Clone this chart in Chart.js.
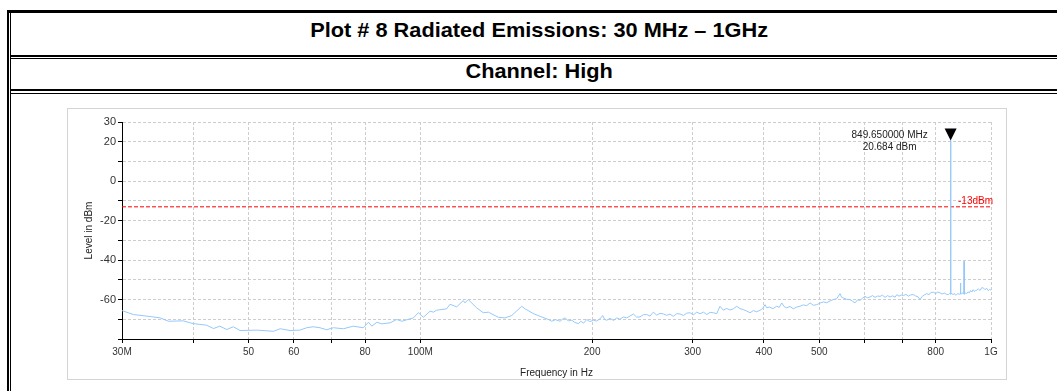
<!DOCTYPE html>
<html>
<head>
<meta charset="utf-8">
<script src="https://cdn.jsdelivr.net/npm/chart.js@4.4.1/dist/chart.umd.min.js"></script>
<style>
  html, body { margin:0; padding:0; background:#fff; width:1057px; height:391px; overflow:hidden; }
  .ln { position:absolute; background:#000; }
  .ttl { position:absolute; left:0; width:1078px; text-align:center; font-family:"Liberation Sans",Arial,sans-serif; font-weight:bold; font-size:21px; line-height:24px; color:#000; white-space:nowrap; }
  .ttl span { display:inline-block; transform:scaleX(1.035); transform-origin:50% 50%; }
  #box { position:absolute; left:67px; top:108px; width:940px; height:272px; box-sizing:border-box; border:1px solid #d4d4d4; }
  #wrap { position:absolute; left:68px; top:109px; width:937px; height:276px; }
</style>
</head>
<body>
<div class="ln" style="left:7px;top:10px;width:1100px;height:3px"></div>
<div class="ln" style="left:7px;top:10px;width:2px;height:400px"></div>
<div class="ln" style="left:10px;top:13px;width:1px;height:400px"></div>
<div class="ln" style="left:10px;top:55px;width:1100px;height:2px"></div>
<div class="ln" style="left:10px;top:58px;width:1100px;height:1px"></div>
<div class="ln" style="left:10px;top:89px;width:1100px;height:2px"></div>
<div class="ln" style="left:10px;top:93px;width:1100px;height:1px"></div>
<div class="ttl" style="top:18px"><span>Plot # 8 Radiated Emissions: 30 MHz – 1GHz</span></div>
<div class="ttl" style="top:59px"><span>Channel: High</span></div>
<div id="box"></div>
<div id="wrap"><canvas id="c"></canvas></div>
<script>
// ---- data (frequency in MHz, level in dBm) ----
const freqMHz = [
  30.0,31.4,33.6,35.0,36.2,38.4,40.0,42.2,43.4,44.5,45.8,47.0,48.3,51.7,55.3,56.8,59.1,61.5,63.2,64.9,
  66.7,68.5,70.4,73.3,76.3,79.4,81.1,82.2,83.9,85.6,88.5,90.9,92.8,97.2,99.2,101.2,104.0,105.4,106.8,111.2,
  112.7,115.8,118.9,119.7,121.3,125.5,128.9,131.6,137.0,140.7,144.6,150.5,152.6,157.7,162.1,167.6,
  169.9,172.5,175.7,177.4,179.3,181.6,184.2,186.5,189.2,191.0,193.2,195.7,198.1,201.0,203.5,206.4,208.7,210.3,212.1,215.0,
  218.0,220.9,223.8,226.8,229.9,232.9,236.2,239.3,242.6,245.9,249.3,252.5,256.0,259.5,263.0,266.6,270.2,273.8,277.5,281.3,
  285.1,289.0,292.9,296.9,300.9,305.0,309.2,313.4,317.6,321.9,326.2,330.6,335.0,339.6,344.2,348.8,353.5,358.4,363.2,368.1,
  373.1,378.2,383.3,388.5,393.8,397.8,401.8,404.6,409.0,415.0,421.2,425.5,429.8,434.1,438.5,444.4,450.4,456.5,462.7,469.0,
  475.4,481.8,488.3,495.0,501.7,508.4,515.3,522.3,529.3,536.5,543.8,547.4,551.0,558.5,566.1,571.8,577.6,583.5,589.5,595.4,
  601.4,607.5,613.7,620.0,626.3,632.6,639.0,645.5,652.1,658.8,665.5,672.3,679.1,683.7,690.0,696.0,702.1,709.3,716.5,723.8,
  731.0,738.0,745.0,750.9,757.6,764.5,771.5,778.3,785.3,792.3,799.5,806.7,814.0,821.0,828.0,835.0,841.8,846.0,848.8,849.65,
  850.5,853.5,858.0,862.5,866.5,870.8,875.0,879.5,882.8,884.0,885.2,889.0,893.0,896.0,897.0,898.0,902.0,906.7,911.5,916.3,
  921.0,925.8,930.5,935.3,940.0,944.0,950.5,956.8,963.2,969.6,976.2,982.8,989.4,995.0,1000.0
];
const levelDbm = [
  -65.6,-67.6,-68.6,-69.3,-71.0,-70.8,-72.2,-73.0,-74.7,-73.5,-75.2,-73.8,-75.7,-75.5,-76.1,-74.8,-75.7,-75.5,-74.3,-73.8,
  -74.3,-75.3,-74.3,-74.8,-73.5,-74.3,-71.5,-73.5,-71.5,-72.3,-71.8,-70.1,-71.0,-69.3,-66.7,-69.0,-65.9,-66.4,-65.4,-64.7,
  -62.4,-63.7,-60.5,-61.7,-60.0,-64.2,-66.7,-66.4,-69.0,-69.3,-68.1,-63.4,-64.7,-67.1,-68.5,-70.1,
  -71.0,-70.2,-71.0,-70.0,-69.3,-70.8,-70.5,-71.6,-72.2,-71.0,-72.0,-70.1,-71.2,-70.5,-70.9,-69.8,-68.1,-70.0,-70.5,-69.5,
  -70.6,-69.3,-70.0,-68.8,-69.3,-68.4,-67.3,-68.9,-68.8,-67.7,-67.6,-68.4,-66.4,-67.9,-67.0,-67.3,-68.0,-67.4,-68.5,-67.2,
  -67.3,-68.1,-66.9,-66.7,-67.8,-66.4,-67.2,-66.4,-67.6,-66.5,-66.7,-67.2,-63.4,-65.4,-64.5,-65.3,-64.7,-63.4,-64.6,-65.1,
  -65.8,-66.7,-65.6,-66.2,-65.4,-64.6,-62.6,-64.2,-63.8,-64.6,-63.4,-64.0,-61.7,-63.6,-64.2,-63.5,-64.7,-63.8,-63.4,-62.7,
  -63.1,-61.7,-62.9,-62.6,-61.8,-61.2,-61.6,-60.7,-60.0,-59.6,-57.0,-58.9,-59.2,-59.9,-60.0,-60.8,-61.7,-60.2,-60.4,-59.3,
  -58.4,-59.1,-58.7,-58.0,-58.9,-58.2,-58.4,-57.8,-58.9,-58.0,-58.7,-58.1,-58.8,-57.5,-58.3,-57.7,-58.0,-57.4,-58.3,-57.6,
  -57.5,-58.2,-58.6,-60.0,-58.4,-57.6,-57.0,-57.5,-56.4,-56.3,-56.9,-56.2,-56.6,-57.2,-56.7,-57.3,-57.5,-56.9,-57.2,20.684,
  -57.3,-56.8,-57.6,-56.9,-57.7,-57.5,-56.9,-57.4,-57.1,-51.6,-57.2,-57.0,-56.6,-57.1,-40.6,-57.3,-56.6,-57.0,-56.1,-56.6,
  -55.4,-56.2,-55.0,-55.9,-55.3,-55.3,-54.6,-55.4,-54.0,-54.1,-55.0,-54.3,-55.5,-54.8,-55.3
];
const limitLevel = -13;
const limitLabel = '-13dBm';
const markerFreq = 849.65;
const markerLevel = 20.684;
const markerText = ['849.650000 MHz', '20.684 dBm'];
const xMin = 30, xMax = 1000;
const xTickValues = [30,40,50,60,70,80,100,200,300,400,500,600,700,800,1000];
const xTickLabels = ['30M','','50','60','','80','100M','200','300','400','500','','','800','1G'];
const yMin = -80, yMax = 30, yStep = 10;
const yLabeled = [30,20,0,-20,-40,-60];

const fontFam = '"Liberation Sans", Arial, sans-serif';

const overlay = {
  id: 'overlay',
  afterDatasetsDraw(chart) {
    const {ctx, scales: {x, y}} = chart;
    ctx.save();
    ctx.font = '10px ' + fontFam;
    ctx.fillStyle = '#ff0000';
    ctx.textAlign = 'right';
    ctx.textBaseline = 'bottom';
    ctx.fillText(limitLabel, x.getPixelForValue(xMax) + 2, y.getPixelForValue(limitLevel) - 1);
    const mx = x.getPixelForValue(markerFreq), my = y.getPixelForValue(markerLevel);
    ctx.fillStyle = '#000';
    ctx.beginPath();
    ctx.moveTo(mx, my); ctx.lineTo(mx - 6, my - 12); ctx.lineTo(mx + 6, my - 12); ctx.closePath();
    ctx.fill();
    ctx.fillStyle = '#222';
    ctx.textAlign = 'center';
    ctx.textBaseline = 'middle';
    ctx.fillText(markerText[0], mx - 61, my - 5);
    ctx.fillText(markerText[1], mx - 61, my + 7);
    ctx.restore();
  }
};

new Chart(document.getElementById('c'), {
  type: 'line',
  data: {
    datasets: [
      {
        data: freqMHz.map((f, i) => ({x: f, y: levelDbm[i]})),
        borderColor: 'rgb(150,200,250)', borderWidth: 1, pointRadius: 0, tension: 0, fill: false, order: 1
      },
      {
        data: [{x: xMin, y: limitLevel}, {x: xMax, y: limitLevel}],
        borderColor: '#ff0000', borderWidth: 1, borderDash: [4, 2], pointRadius: 0, fill: false, order: 2
      }
    ]
  },
  options: {
    responsive: true, maintainAspectRatio: false, animation: false, devicePixelRatio: 1,
    layout: { padding: { left: 0, right: 14, top: 13, bottom: 0 } },
    plugins: { legend: { display: false }, tooltip: { enabled: false } },
    scales: {
      x: {
        type: 'logarithmic', min: xMin, max: xMax,
        afterBuildTicks: s => { s.ticks = xTickValues.map(v => ({value: v})); },
        afterFit: s => { s.height = 46; },
        ticks: { autoSkip: false, maxRotation: 0, padding: 3, color: '#333', font: { family: fontFam, size: 10 },
                 callback: (v, i) => xTickLabels[i] },
        grid: { color: '#cdcdcd', lineWidth: 1, tickLength: 4, tickColor: '#000' },
        border: { display: true, color: '#000', width: 1, dash: [3, 2] },
        title: { display: true, text: 'Frequency in Hz', color: '#222', font: { family: fontFam, size: 10 }, padding: { top: 0, bottom: 6 } }
      },
      y: {
        type: 'linear', min: yMin, max: yMax,
        afterFit: s => { s.width = 54; },
        ticks: { stepSize: yStep, padding: 2, color: '#333', font: { family: fontFam, size: 11 },
                 callback: v => (yLabeled.includes(v) ? String(v) : '') },
        grid: { color: '#cdcdcd', lineWidth: 1, tickLength: 4, tickColor: '#000' },
        border: { display: true, color: '#000', width: 1, dash: [3, 2] },
        title: { display: true, text: 'Level in dBm', color: '#222', font: { family: fontFam, size: 10 }, padding: { top: 15, bottom: 0 } }
      }
    }
  },
  plugins: [overlay]
});
</script>
</body>
</html>
